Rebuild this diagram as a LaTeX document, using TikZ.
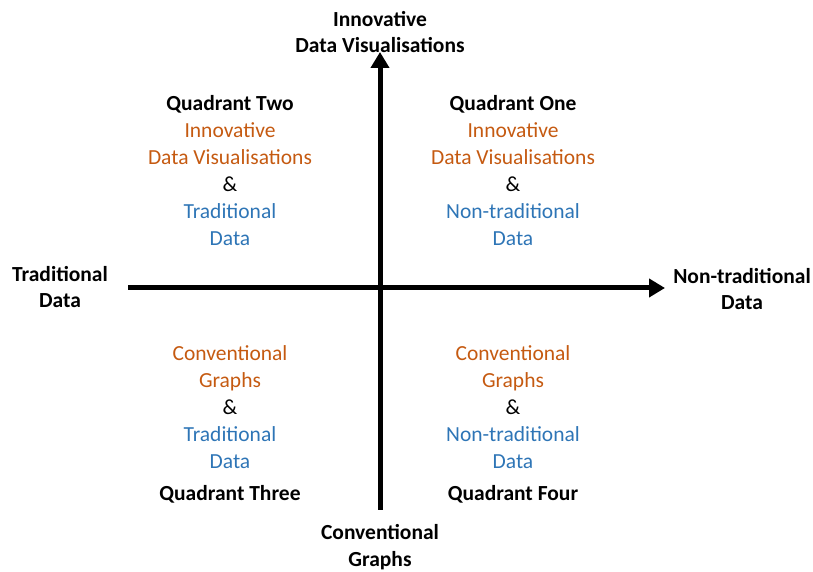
\documentclass[tikz,border=0pt]{standalone}
\usepackage{fontspec}
\setmainfont{Carlito}
\usetikzlibrary{arrows.meta}
\definecolor{inno}{HTML}{C55A11}
\definecolor{trad}{HTML}{2E75B6}
\tikzset{
  lab/.style={align=center, font=\fontsize{21.5}{26.5}\selectfont\bfseries, inner sep=0pt},
  quad/.style={align=center, font=\fontsize{21.5}{27}\selectfont, inner sep=0pt},
  ax/.style={line width=5pt, -{Triangle[length=16pt, width=18pt]}},
}
\newcommand{\inn}[1]{\textcolor{inno}{#1}}
\newcommand{\trd}[1]{\textcolor{trad}{#1}}

\begin{document}
\begin{tikzpicture}[x=1pt, y=1pt]
\useasboundingbox (0,0) rectangle (813,572);

% axes
\coordinate (vb) at (380,62);
\coordinate (vt) at (380,520);
\coordinate (hl) at (128,284);
\coordinate (hr) at (665,284);
\draw[ax] (vb) -- (vt);
\draw[ax] (hl) -- (hr);

% axis ends
\node[lab] (top) at (380,540) {Innovative\\Data Visualisations};
\node[lab] (left) at (60,285) {Traditional\\Data};
\node[lab] (right) at (742,283) {Non-traditional\\Data};
\node[lab] (bottom) at (380,25) {Conventional\\Graphs};

% quadrants
\node[quad] (q2) at (230,401) {\textbf{Quadrant Two}\\\inn{Innovative}\\\inn{Data Visualisations}\\\&\\\trd{Traditional}\\\trd{Data}};
\node[quad] (q1) at (513,401) {\textbf{Quadrant One}\\\inn{Innovative}\\\inn{Data Visualisations}\\\&\\\trd{Non-traditional}\\\trd{Data}};
\node[quad] (q3) at (230,148) {\inn{Conventional}\\\inn{Graphs}\\\&\\\trd{Traditional}\\\trd{Data}\\[5pt]\textbf{Quadrant Three}};
\node[quad] (q4) at (513,148) {\inn{Conventional}\\\inn{Graphs}\\\&\\\trd{Non-traditional}\\\trd{Data}\\[5pt]\textbf{Quadrant Four}};
\end{tikzpicture}
\end{document}
